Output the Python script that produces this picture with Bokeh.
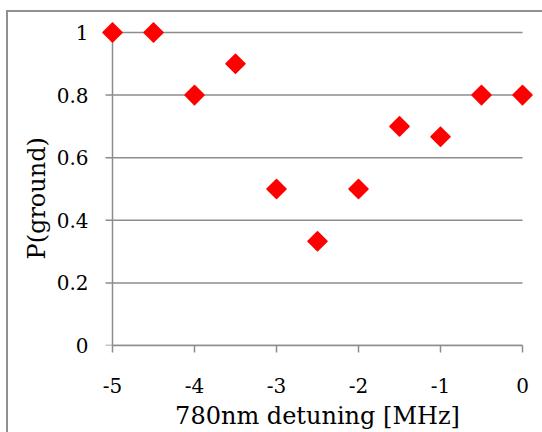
import numpy as np
from bokeh.plotting import figure
from bokeh.models import FixedTicker
from bokeh.embed import file_html
from bokeh.resources import INLINE

# data
detuning = [-5.0, -4.5, -4.0, -3.5, -3.0, -2.5, -2.0, -1.5, -1.0, -0.5, 0.0]
p_ground = [1.0, 1.0, 0.8, 0.9, 0.5, 0.333, 0.5, 0.7, 0.667, 0.8, 0.8]
x_ticks = [-5, -4, -3, -2, -1, 0]
x_tick_labels = ["-5", "-4", "-3", "-2", "-1", "0"]
y_ticks = [0.0, 0.2, 0.4, 0.6, 0.8, 1.0]
y_tick_labels = ["0", "0.2", "0.4", "0.6", "0.8", "1"]
x_title = "780nm detuning [MHz]"
y_title = "P(ground)"

GRAY = "#8c8c8c"
FONT = "DejaVu Serif"
PX_PER_X = 82.0          # frame pixels per x unit
PX_PER_Y = 314.0         # frame pixels per y unit
PAD = 11.0               # room for markers at the data edges (px)
TICK = 7.0               # outward tick length (px)

x0, x1 = min(x_ticks), max(x_ticks)
y0, y1 = min(y_ticks), max(y_ticks)

p = figure(width=542, height=432,
           x_range=(x0 - PAD / PX_PER_X, x1 + PAD / PX_PER_X),
           y_range=(y0, y1 + 12 / PX_PER_Y),
           output_backend="svg", toolbar_location=None,
           min_border_left=101, min_border_right=9,
           min_border_top=20, min_border_bottom=86)
p.outline_line_color = None
p.grid.visible = False
p.border_fill_color = None
p.background_fill_color = None
line_css = "linear-gradient(#909090, #909090)"
p.styles = {
    "background-color": "white",
    "background-image": line_css + ", " + line_css,
    "background-size": "2px 100%, 100% 2px",
    "background-position": "6px 10px, 6px 10px",
    "background-repeat": "no-repeat",
}

# gridlines (with their outward tick) and the y axis line
p.segment(x0=x0 - TICK / PX_PER_X, x1=x1, y0=y_ticks, y1=y_ticks,
          line_color=GRAY, line_width=1.5)
p.segment(x0=x0, x1=x0, y0=y0, y1=y1, line_color=GRAY, line_width=1.5)

p.scatter(detuning, p_ground, marker="square", angle=np.pi / 4, size=13.5,
          fill_color="#ff0000", line_color="#ff0000", line_width=1.5,
          line_join="round")

xa = p.xaxis[0]
xa.ticker = FixedTicker(ticks=x_ticks)
xa.major_label_overrides = dict(zip(x_ticks, x_tick_labels))
xa.bounds = (x0, x1)
xa.axis_label = x_title
xa.major_tick_out = 7
xa.major_label_standoff = 25
xa.axis_label_standoff = 6
xa.axis_line_color = GRAY
xa.axis_line_width = 1.5
xa.major_tick_line_color = GRAY
xa.major_tick_line_width = 1.5

ya = p.yaxis[0]
ya.ticker = FixedTicker(ticks=y_ticks)
ya.major_label_overrides = dict(zip(y_ticks, y_tick_labels))
# trailing no-break spaces nudge the centred, rotated title a little lower
ya.axis_label = y_title + "\u00a0" * 4
ya.major_tick_out = 0
ya.major_label_standoff = 13
ya.axis_label_standoff = 3
ya.axis_line_color = None
ya.major_tick_line_color = None

for ax in (xa, ya):
    ax.major_tick_in = 0
    ax.minor_tick_line_color = None
    ax.major_label_text_font = FONT
    ax.major_label_text_font_size = "20px"
    ax.major_label_text_color = "#000000"
    ax.axis_label_text_font = FONT
    ax.axis_label_text_font_size = "24px"
    ax.axis_label_text_font_style = "normal"
    ax.axis_label_text_color = "#000000"

open("out.html", "w").write(file_html(p, INLINE))
